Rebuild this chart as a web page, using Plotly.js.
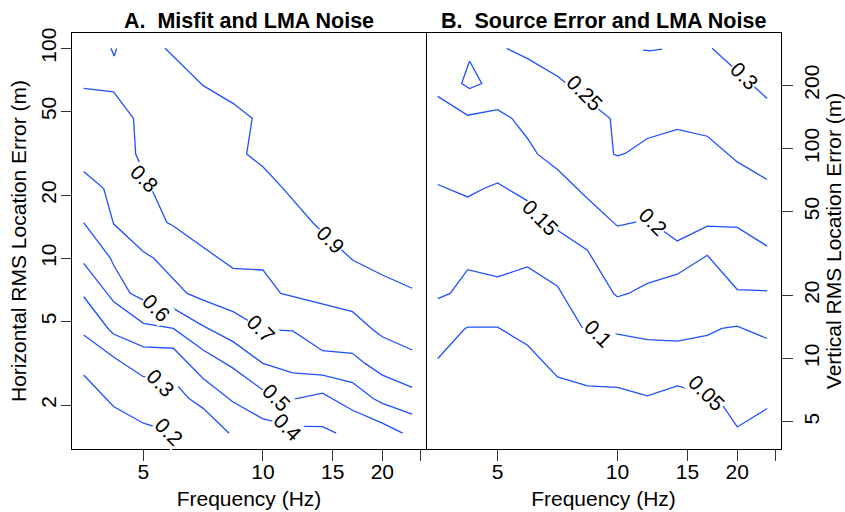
<!DOCTYPE html>
<html>
<head>
<meta charset="utf-8">
<script src="https://cdn.plot.ly/plotly-3.0.1.min.js"></script>
<style>html,body{margin:0;padding:0;background:#fff;}#chart{width:845px;height:512px;}</style>
</head>
<body>
<div id="chart"></div>
<script>
// ---------- Panel A: Misfit and LMA Noise (frequency Hz vs horizontal RMS error m) ----------
const a09_f = [5.67, 7.071, 8.409, 9.40, 9.10, 10.0, 11.15, 11.89, 13.4, 14.14, 16.82, 20.0, 23.78];
const a09_h = [100, 66.4, 54.7, 46.4, 31.4, 27.3, 21.9, 19.1, 14.7, 13.3, 9.81, 8.33, 7.20];
const a09b_f = [4.14, 4.22, 4.28];
const a09b_h = [100, 91.9, 100];
const a08_f = [3.536, 4.204, 4.72, 4.78, 5.73, 5.946, 7.74, 8.409, 10.0, 11.09, 16.82, 18.97, 20.0, 23.78];
const a08_h = [64.5, 62.1, 46.4, 31.4, 14.8, 14.25, 10.0, 8.96, 8.80, 6.81, 5.57, 4.56, 4.23, 3.66];
const a07_f = [3.536, 3.97, 4.204, 5.0, 5.31, 5.946, 6.44, 7.071, 8.409, 10.0, 11.89, 14.14, 16.82, 18.08, 20.0, 23.78];
const a07_h = [25.9, 21.5, 14.6, 10.75, 10.0, 8.03, 6.81, 6.33, 5.57, 4.59, 4.51, 3.63, 3.53, 3.16, 2.78, 2.43];
const a06_f = [3.536, 4.13, 4.204, 4.63, 5.0, 5.946, 7.071, 8.409, 10.0, 11.89, 14.14, 16.82, 18.97, 20.0, 23.78];
const a06_h = [14.8, 10.0, 9.29, 6.81, 6.33, 5.78, 4.77, 4.01, 3.16, 2.85, 2.78, 2.56, 2.15, 2.04, 1.81];
const a05_f = [3.536, 4.204, 5.0, 5.946, 7.071, 8.409, 10.0, 11.89, 14.14, 16.82, 20.0, 22.5];
const a05_h = [9.47, 6.22, 4.90, 4.64, 3.66, 3.00, 2.36, 2.13, 2.28, 1.89, 1.64, 1.47];
const a04_f = [3.536, 4.08, 4.204, 5.0, 5.946, 7.071, 8.409, 10.0, 11.89, 14.14, 15.3];
const a04_h = [6.56, 4.61, 4.36, 3.79, 3.73, 2.68, 2.07, 1.72, 1.59, 1.58, 1.47];
const a03_f = [3.536, 4.204, 5.0, 5.946, 6.51, 7.071, 8.22];
const a03_h = [4.31, 3.39, 2.73, 2.60, 2.15, 1.93, 1.47];
const a02_f = [3.536, 4.204, 5.0, 5.946];
const a02_h = [2.78, 1.97, 1.64, 1.48];

// ---------- Panel B: Source Error and LMA Noise (frequency Hz vs vertical RMS error m) ----------
const b030_f = [17.3, 23.78];
const b030_v = [300, 173];
const b030b_f = [11.59, 12.09, 12.94];
const b030b_v = [294, 292, 297];
const b025t_f = [4.25, 4.06, 4.25, 4.56, 4.25];
const b025t_v = [261, 204, 193, 204, 261];
const b025_f = [5.27, 5.946, 7.071, 8.409, 9.59, 9.78, 10.0, 10.46, 11.89, 14.14, 16.82, 20.0, 23.78];
const b025_v = [300, 268, 221, 170, 139, 94.0, 92.2, 94.7, 111.6, 123.2, 114.4, 86.3, 71.2];
const b020_f = [3.536, 4.204, 5.0, 5.43, 5.946, 6.30, 7.071, 8.409, 10.0, 11.89, 14.14, 16.82, 20.0, 23.78];
const b020_v = [177, 144, 153, 139, 111.6, 94.0, 79.4, 57.8, 42.7, 45.9, 36.3, 42.7, 42.1, 34.3];
const b015_f = [3.536, 4.204, 4.62, 5.0, 5.27, 5.946, 7.071, 8.409, 9.78, 10.0, 10.66, 11.89, 14.14, 16.82, 20.0, 23.78];
const b015_v = [67.4, 58.8, 64.5, 68.6, 64.5, 56.3, 40.8, 32.8, 20.4, 19.65, 20.4, 22.8, 25.2, 31.0, 21.3, 21.0];
const b010_f = [3.536, 3.80, 4.204, 5.0, 5.946, 7.071, 8.22, 8.409, 10.0, 11.89, 14.14, 16.82, 18.3, 20.0, 23.78];
const b010_v = [19.3, 20.4, 26.5, 24.5, 27.3, 22.1, 13.7, 13.2, 13.05, 12.3, 12.1, 12.9, 13.9, 14.25, 12.45];
const b005_f = [3.536, 4.14, 4.204, 5.0, 5.946, 7.071, 8.409, 10.0, 11.89, 14.14, 16.82, 18.14, 20.0, 23.78];
const b005_v = [10.0, 13.9, 14.1, 14.1, 11.57, 8.17, 7.41, 7.28, 6.64, 7.41, 6.81, 6.21, 4.72, 5.78];

// contour labels: text, frequency, error value
const labA_text = ['0.9', '0.8', '0.7', '0.6', '0.5', '0.4', '0.3', '0.2'];
const labA_f = [14.8, 5.03, 9.87, 5.38, 10.83, 11.59, 5.51, 5.79];
const labA_h = [12.3, 24.1, 4.61, 5.84, 2.18, 1.57, 2.56, 1.49];
const labB_text = ['0.3', '0.25', '0.2', '0.15', '0.1', '0.05'];
const labB_f = [20.8, 8.25, 12.26, 6.40, 8.96, 16.7];
const labB_v = [223, 184, 44.7, 46.9, 13.2, 6.86];

const xTicks = [5, 10, 15, 20, 25];
const xTickText = ['5', '10', '15', '20', ''];
const yTicksA = [2, 5, 10, 20, 50, 100];
const yTicksB = [5, 10, 20, 50, 100, 200];
const refLineH = 10;

const BLUE = 'rgb(30,80,255)';
const FONT = 'Liberation Sans, Arial, Helvetica, sans-serif';
const traces = [];
function addLine(f, v, xa, ya) {
  traces.push({x: f, y: v, xaxis: xa, yaxis: ya, type: 'scatter', mode: 'lines',
    line: {color: BLUE, width: 1.3}, hoverinfo: 'skip', showlegend: false});
}
[[a09_f,a09_h],[a09b_f,a09b_h],[a08_f,a08_h],[a07_f,a07_h],[a06_f,a06_h],[a05_f,a05_h],[a04_f,a04_h],[a03_f,a03_h],[a02_f,a02_h]]
  .forEach(p => addLine(p[0], p[1], 'x', 'y'));
[[b030_f,b030_v],[b030b_f,b030b_v],[b025t_f,b025t_v],[b025_f,b025_v],[b020_f,b020_v],[b015_f,b015_v],[b010_f,b010_v],[b005_f,b005_v]]
  .forEach(p => addLine(p[0], p[1], 'x2', 'y2'));

const annotations = [];
labA_text.forEach((t, i) => annotations.push({
  x: Math.log10(labA_f[i]), y: Math.log10(labA_h[i]), xref: 'x', yref: 'y', text: t,
  showarrow: false, textangle: 45, font: {size: 21, color: '#000', family: FONT},
  bgcolor: '#ffffff', borderpad: 0
}));
labB_text.forEach((t, i) => annotations.push({
  x: Math.log10(labB_f[i]), y: Math.log10(labB_v[i]), xref: 'x2', yref: 'y2', text: t,
  showarrow: false, textangle: 45, font: {size: 21, color: '#000', family: FONT},
  bgcolor: '#ffffff', borderpad: 0
}));
annotations.push({x: 0.2497, y: 1.0288, xref: 'paper', yref: 'paper', xanchor: 'center', yanchor: 'middle',
  text: '<b>A.\u00a0 Misfit and LMA Noise</b>', showarrow: false, font: {size: 21.5, color: '#000', family: FONT}});
annotations.push({x: 0.7497, y: 1.0288, xref: 'paper', yref: 'paper', xanchor: 'center', yanchor: 'middle',
  text: '<b>B.\u00a0 Source Error and LMA Noise</b>', showarrow: false, font: {size: 21.5, color: '#000', family: FONT}});

const axCommon = {
  type: 'log', showgrid: false, zeroline: false, showline: true, mirror: true,
  linecolor: '#000', linewidth: 1.3, ticks: 'outside', ticklen: 11, tickwidth: 1.2,
  tickcolor: '#333', tickfont: {size: 21, color: '#000', family: FONT}
};

const layout = {
  width: 845, height: 512,
  margin: {l: 72, r: 64, t: 33, b: 63},
  paper_bgcolor: '#fff', plot_bgcolor: '#fff',
  font: {family: FONT, color: '#000'},
  showlegend: false,
  xaxis: Object.assign({}, axCommon, {domain: [0, 0.4993], range: [0.519, 1.411], anchor: 'y',
    tickmode: 'array', tickvals: xTicks, ticktext: xTickText, ticklabelstandoff: -8,
    title: {text: 'Frequency (Hz)', font: {size: 21, family: FONT}, standoff: 9}}),
  yaxis: Object.assign({}, axCommon, {range: [0.092, 2.073], anchor: 'x', ticklen: 10,
    tickmode: 'array', tickvals: yTicksA, ticktext: yTicksA.map(String), tickangle: -90, ticklabelstandoff: -4,
    title: {text: 'Horizontal RMS Location Error (m)', font: {size: 21, family: FONT}, standoff: 5}}),
  xaxis2: Object.assign({}, axCommon, {domain: [0.4993, 1], range: [0.519, 1.411], anchor: 'y2',
    tickmode: 'array', tickvals: xTicks, ticktext: xTickText, ticklabelstandoff: -8,
    title: {text: 'Frequency (Hz)', font: {size: 21, family: FONT}, standoff: 9}}),
  yaxis2: Object.assign({}, axCommon, {range: [0.569, 2.550], anchor: 'x2', side: 'right', mirror: false,
    tickmode: 'array', tickvals: yTicksB, ticktext: yTicksB.map(String), tickangle: -90,
    title: {text: 'Vertical RMS Location Error (m)', font: {size: 21, family: FONT}, standoff: 0}}),
  shapes: [{type: 'line', xref: 'paper', x0: 0, x1: 1, yref: 'y',
    y0: Math.log10(refLineH), y1: Math.log10(refLineH), line: {color: '#000', width: 1, dash: 'dot'}}],
  annotations: annotations
};

Plotly.newPlot('chart', traces, layout, {staticPlot: true, displayModeBar: false});
</script>
</body>
</html>
